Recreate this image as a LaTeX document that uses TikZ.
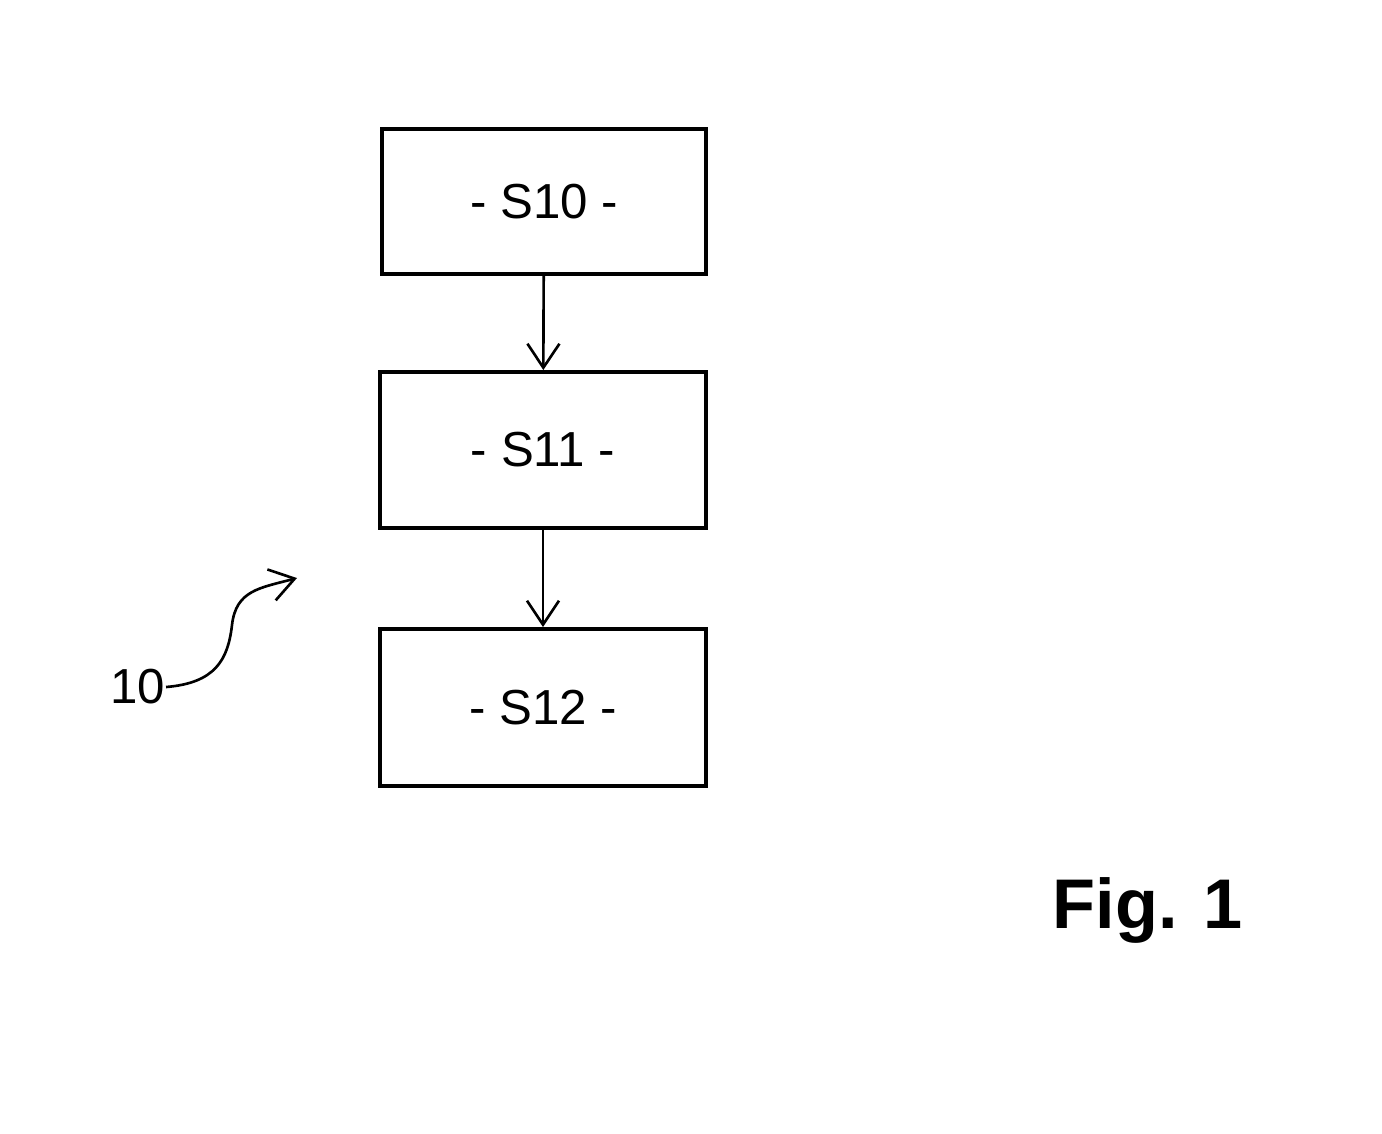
\documentclass[tikz,border=0pt]{standalone}
\usepackage{fontspec}
\setmainfont{Liberation Sans}
\usetikzlibrary{arrows.meta}
\tikzset{
	stepbox/.style={draw, line width=1.1pt, minimum width=3.25cm, minimum height=1.5cm, font=\fontsize{14}{16}\selectfont},
	flow/.style={line width=0.75pt, -{Straight Barb[length=2.4mm,width=3.2mm]}}
}
\begin{document}
\begin{tikzpicture}
	\useasboundingbox (0,0) rectangle (13.82,-11.33);
	% steps
	\node[stepbox, minimum width=3.24cm, minimum height=1.45cm] (s10) at (5.44,-2.015) {- S10 -};
	\node[stepbox, minimum width=3.26cm, minimum height=1.56cm] (s11) at (5.43,-4.50) {- S11 -};
	\node[stepbox, minimum width=3.26cm, minimum height=1.57cm] (s12) at (5.43,-7.075) {- S12 -};
	\draw[flow] (s10) -- (s11);
	\draw[flow] (s11) -- (s12);
	% reference sign
	\node[font=\fontsize{14}{16}\selectfont, inner sep=0pt] (ref) at (1.38,-6.87) {10};
	\coordinate (refend) at (2.97,-5.78);
	\draw[flow] (ref.east) .. controls (2.15,-6.83) and (2.28,-6.6) .. (2.32,-6.25)
		.. controls (2.36,-5.9) and (2.6,-5.88) .. (refend);
	% figure label
	\node[font=\fontsize{20}{24}\selectfont\bfseries] (fig) at (11.48,-9.1) {Fig. 1};
\end{tikzpicture}
\end{document}
